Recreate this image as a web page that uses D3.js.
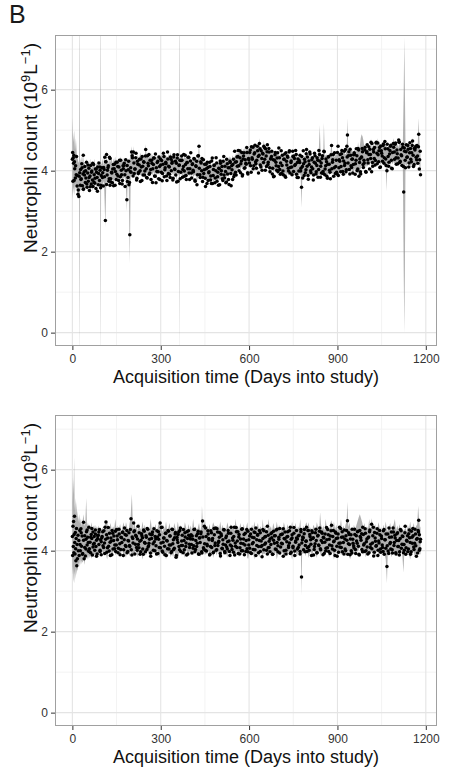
<!DOCTYPE html>
<html><head><meta charset="utf-8">
<script src="https://cdn.jsdelivr.net/npm/d3@7"></script>
<style>body{margin:0;background:#fff;} svg{display:block;font-family:"Liberation Sans",Arial,Helvetica,sans-serif;}</style>
</head><body><svg id="c" width="452" height="768"></svg>
<script>
const panelLabel = "B";
const xTitle = "Acquisition time (Days into study)";
const xTicks = [0, 300, 600, 900, 1200];
const xMinor = [150, 450, 750, 1050];
const yTicks = [0, 2, 4, 6];
const yMinor = [1, 3, 5, 7];

// top panel: [day, count]
const topPoints = [[0,4.28],[1,4.45],[2,3.74],[3,4.32],[4,4.18],[5,4.38],[6,3.76],[7,4.22],[8,4.05],[10,3.82],[11,4.12],[13,3.9],[14,4.35],[16,3.62],[17,3.88],[19,3.42],[20,3.52],[22,3.36],[23,3.86],[25,3.95],[27,3.64],
[28,4.03],[30,3.8],[32,4.17],[34,3.63],[36,3.92],[37,4.38],[38,3.55],[40,3.97],[42,4.1],[44,3.71],[46,3.82],[48,4.21],[50,3.59],[52,3.94],[54,3.74],[56,4.06],[58,3.51],[60,3.87],[62,4.13],[64,3.67],[66,3.99],[68,3.77],[70,3.61],[72,4.15],[74,3.9],[76,3.69],[78,4.04],[80,3.56],[82,3.96],[84,3.83],[86,4.09],[88,3.65],[90,4.19],[92,3.76],[94,4.01],[96,3.58],[98,3.88],[100,4.07],
[102,3.83],[105,3.62],[108,4.03],[110,4.33],[112,2.77],[114,4.22],[116,4.4],[118,3.89],[121,4.08],[124,3.74],[126,4.33],[128,3.64],[130,3.8],[133,3.96],[136,3.7],[139,4.15],[142,4.05],[145,3.64],[148,4.21],[151,3.91],[154,4.1],[157,3.76],[160,4.26],[163,3.85],[166,4.01],[169,3.67],[172,4.12],[175,4.13],[178,3.9],[181,4.27],[185,3.28],[187,3.73],[190,4.02],[192,3.65],[195,2.42],[198,4.07],[201,4.46],
[204,4.32],[207,4.46],[210,3.93],[213,4.04],[216,4.43],[219,3.81],[222,4.16],[225,3.96],[228,4.28],[231,3.73],[234,4.09],[237,4.35],[240,3.89],[243,4.21],[246,3.99],[249,4.52],[252,3.83],[255,4.37],[258,4.12],[261,3.91],[264,4.26],[267,3.78],[270,4.18],[273,4.05],[276,4.31],[279,3.87],[282,4.41],[284,3.7],[287,3.98],[290,4.23],[293,3.8],[296,4.1],[299,4.29],
[302,3.96],[305,3.75],[308,4.16],[311,4.35],[314,4.02],[317,4.21],[320,3.87],[323,4.46],[326,3.93],[329,4.09],[332,3.83],[335,4.28],[338,4.18],[341,3.77],[344,4.34],[347,4.04],[350,4.23],[354,3.72],[357,4.39],[360,3.98],[363,4.14],[366,3.8],[369,4.25],[372,4.26],[375,4.03],[378,4.4],[381,3.86],[384,4.15],[387,3.78],[390,4.2],[393,4.33],[396,3.94],[399,4.05],[402,4.44],[405,3.82],[408,4.17],[411,3.97],[414,4.29],[417,3.74],[420,4.1],[423,3.65],[426,4.36],[430,4.6],[433,3.9],[436,4.22],[439,4.0],
[442,3.73],[445,4.27],[448,4.02],[451,3.81],[454,4.16],[457,3.68],[460,4.08],[463,3.95],[466,4.21],[469,3.77],[472,3.68],[475,4.31],[478,3.88],[481,4.13],[484,3.7],[487,4.0],[490,4.19],[493,3.85],[496,3.64],[499,4.05],[502,4.24],[505,3.91],[508,4.1],[511,3.76],[514,4.35],[517,3.82],[520,3.98],[523,3.72],[526,4.17],[529,4.07],[532,3.66],[535,4.23],[538,3.93],[541,4.12],[544,3.78],[547,4.28],[550,3.9],
[553,4.21],[556,3.89],[559,4.34],[562,4.35],[565,4.12],[568,4.49],[571,3.95],[574,4.24],[577,3.87],[580,4.29],[583,4.44],[586,4.07],[589,4.18],[592,4.57],[595,3.95],[598,4.3],
[601,4.19],[604,4.51],[607,3.96],[610,4.32],[613,4.58],[616,4.12],[619,4.44],[622,4.22],[625,4.06],[628,4.6],[631,4.35],[635,4.67],[638,4.14],[641,4.49],[644,4.01],[647,4.41],[650,4.6],[653,4.28],[656,4.54],[659,4.1],[662,4.64],[665,4.21],[668,4.46],[671,3.97],[674,4.3],[677,4.48],
[680,4.06],[683,3.85],[686,4.26],[689,4.45],[692,4.12],[695,4.31],[698,3.97],[701,4.56],[704,4.03],[707,4.19],[710,3.93],[713,4.38],[716,3.9],[719,4.28],[722,3.87],[725,4.44],[728,4.14],[731,4.33],[734,3.99],[737,4.49],[740,4.08],[743,4.24],[746,3.9],[749,4.35],[752,4.36],[755,4.13],[758,4.5],
[761,3.91],[764,4.2],[767,3.83],[770,4.25],[773,4.38],[775,3.99],[778,3.59],[781,4.1],[784,4.49],[787,3.88],[790,4.22],[793,4.02],[795,4.52],[798,4.34],[801,3.79],[804,4.15],[807,4.41],[810,3.95],[813,4.27],[816,4.05],[819,3.89],[822,4.43],[825,4.18],[828,3.97],[831,4.32],[834,3.84],[837,4.5],[840,4.24],[843,4.11],[846,3.94],[849,4.37],[852,3.93],[855,4.47],[858,4.04],[861,4.29],[864,3.86],[867,4.16],[870,4.35],[873,4.01],[876,3.8],[880,4.62],[883,4.21],[886,4.4],[889,4.07],[893,3.93],[896,4.26],[899,3.92],
[902,4.6],[905,4.07],[908,4.23],[911,3.97],[914,4.42],[917,4.32],[920,3.91],[923,4.48],[926,4.18],[929,3.97],[932,4.6],[934,4.88],[937,4.37],[940,4.03],[943,4.53],[946,4.12],[949,4.28],[952,3.94],[955,4.39],[958,4.4],[961,4.17],[964,4.54],[967,4.0],[970,4.55],[973,3.86],[976,4.29],[979,3.92],[982,4.34],[985,4.47],[988,4.08],[991,4.19],[994,4.58],[997,3.96],
[1000,4.47],[1003,4.27],[1006,4.59],[1009,4.04],[1012,4.4],[1014,4.7],[1016,3.97],[1019,4.2],[1022,4.52],[1025,4.3],[1028,4.14],[1031,4.68],[1034,4.43],[1037,4.68],[1040,4.22],[1043,4.57],[1046,4.09],[1049,4.49],[1052,4.36],[1055,4.62],[1058,4.18],[1061,4.72],[1064,4.29],[1068,4.0],[1071,4.54],[1074,4.11],[1077,4.41],[1080,4.6],[1083,4.26],[1086,4.05],[1090,4.67],[1093,4.46],[1096,4.65],[1099,4.32],[1102,4.51],[1105,4.17],[1108,4.76],[1110,4.71],[1113,4.23],[1116,4.39],[1119,4.13],[1122,4.58],[1125,3.47],[1128,4.48],[1131,4.07],[1134,4.64],[1137,4.34],[1140,4.53],[1143,4.19],[1146,4.69],[1149,4.28],[1152,4.44],[1155,4.73],[1158,4.1],[1161,4.55],[1164,4.56],[1167,4.33],[1170,4.62],[1173,4.18],[1176,4.9],[1179,4.27],[1182,3.9]];

// top panel, second acquisition on days in between
const topPoints2 = [[29,3.78],[33,4.07],[37,3.54],[41,3.89],[45,4.0],[49,3.67],[53,4.14],[57,3.83],[61,3.6],[65,3.96],[69,4.18],[73,3.72],[77,3.81],[81,4.04],[85,3.49],[89,3.93],[93,4.09],[97,3.64],
[103,3.95],[106,4.08],[109,3.85],[113,4.22],[116,3.66],[119,4.01],[122,4.12],[125,3.8],[128,4.3],[131,3.72],[134,3.94],[137,4.04],[140,3.63],[143,4.16],[146,3.98],[149,3.78],[152,4.21],[155,3.87],[158,4.09],[161,3.68],[164,4.26],[167,3.9],[170,3.76],[173,4.05],[176,4.18],[179,3.61],[182,4.0],[186,4.13],[189,3.83],[191,4.23],[194,3.71],[197,3.97],[199,3.96],
[203,4.37],[206,3.87],[209,4.19],[212,4.04],[215,4.32],[218,3.77],[221,4.23],[224,3.93],[227,4.14],[230,4.0],[233,4.29],[236,3.76],[239,4.11],[242,4.22],[245,3.89],[248,4.36],[251,4.05],[254,3.82],[257,4.18],[260,4.4],[263,3.94],[266,4.03],[269,4.26],[272,3.71],[275,4.15],[278,4.31],[281,3.86],[285,4.07],[288,4.2],[291,3.97],[294,4.34],[297,3.78],
[300,4.14],[303,4.25],[306,3.93],[309,4.43],[312,3.85],[315,4.07],[318,4.17],[321,3.76],[324,4.29],[327,4.11],[330,3.91],[333,4.34],[336,4.0],[339,4.22],[342,3.81],[345,4.39],[348,4.03],[351,3.89],[353,4.18],[356,4.31],[359,3.74],[362,4.13],[365,4.26],[368,3.96],[371,4.36],[374,3.84],[377,4.1],[380,3.99],[383,4.38],[386,3.88],[389,4.2],[392,4.05],[395,4.33],[398,3.78],[401,4.24],[404,3.94],[407,4.15],[410,4.01],[413,4.3],[416,3.77],[419,4.12],[422,4.23],[425,3.9],[428,4.37],[431,4.06],[434,3.83],[437,4.19],
[440,4.3],[443,3.84],[446,3.93],[449,4.16],[452,3.61],[455,4.05],[458,4.21],[461,3.76],[464,3.97],[467,4.1],[470,3.87],[473,4.24],[476,3.68],[479,4.03],[482,4.14],[485,3.82],[488,4.32],[491,3.74],[494,3.96],[497,4.06],[500,3.65],[503,4.18],[506,4.0],[509,3.8],[512,4.23],[515,3.89],[518,4.11],[521,3.7],[524,4.28],[527,3.92],[530,3.78],[533,4.07],[536,4.2],[539,3.63],[542,4.02],[545,4.15],[548,3.85],
[551,4.48],[554,3.96],[557,4.22],[560,4.11],[563,4.5],[566,4.0],[569,4.32],[572,4.17],[575,4.45],[578,3.9],[581,4.36],[584,4.06],[587,4.27],[590,4.16],[593,4.45],[596,3.92],[599,4.27],
[602,4.45],[605,4.12],[608,4.59],[611,4.28],[614,4.05],[617,4.41],[620,4.63],[623,4.17],[626,4.26],[629,4.49],[632,3.94],[634,4.38],[637,4.54],[640,4.09],[643,4.3],[646,4.43],[649,4.2],[652,4.57],[655,4.01],[658,4.36],[661,4.47],[664,4.15],[667,4.55],[670,4.07],[673,4.29],[676,4.35],[679,3.92],
[682,4.27],[685,3.86],[688,4.39],[691,4.21],[694,4.01],[697,4.44],[700,4.1],[703,4.32],[706,3.91],[709,4.49],[712,4.13],[715,3.99],[718,4.28],[721,4.41],[724,3.84],[727,4.23],[730,4.36],[733,4.06],[736,4.46],[739,3.94],[742,4.2],[745,4.09],[748,4.48],[751,3.98],[754,4.3],[757,4.15],[760,4.4],
[763,3.83],[766,4.29],[769,3.99],[772,4.2],[776,4.06],[779,4.35],[782,3.82],[785,4.17],[788,4.28],[791,3.95],[794,4.42],[797,4.11],[800,3.88],[803,4.24],[806,4.46],[809,4.0],[812,4.09],[815,4.32],[818,3.77],[821,4.21],[824,4.37],[827,3.92],[830,4.13],[833,4.26],[836,4.03],[839,4.4],[842,3.84],[845,4.19],[848,4.3],[851,3.98],[854,4.48],[857,3.9],[860,4.12],[863,4.22],[866,3.81],[869,4.34],[872,4.16],[875,3.96],[878,4.39],[881,4.05],[884,4.27],[887,3.86],[890,4.44],[894,4.1],[897,3.96],
[900,4.45],[903,3.88],[906,4.27],[909,4.4],[912,4.1],[915,4.5],[918,3.98],[921,4.24],[924,4.13],[927,4.52],[930,4.02],[933,4.34],[936,4.19],[939,4.47],[942,3.92],[945,4.38],[948,4.08],[951,4.29],[954,4.15],[957,4.44],[960,3.91],[963,4.26],[966,4.37],[969,4.04],[972,4.51],[975,4.2],[978,3.97],[981,4.33],[984,4.55],[987,4.15],[990,4.26],[993,4.51],[996,3.98],[999,4.44],
[1001,4.64],[1004,4.19],[1007,4.4],[1010,4.53],[1013,4.3],[1017,4.67],[1020,4.11],[1023,4.46],[1026,4.57],[1029,4.25],[1032,4.7],[1035,4.17],[1038,4.39],[1041,4.49],[1044,4.08],[1047,4.61],[1050,4.43],[1053,4.23],[1056,4.66],[1059,4.32],[1062,4.54],[1065,4.13],[1069,4.65],[1072,4.35],[1075,4.21],[1078,4.5],[1081,4.63],[1084,4.06],[1087,4.45],[1091,4.58],[1094,4.28],[1097,4.68],[1100,4.16],[1103,4.42],[1106,4.31],[1109,4.7],[1112,4.2],[1115,4.52],[1118,4.37],[1121,4.65],[1124,4.1],[1127,4.56],[1130,4.26],[1133,4.47],[1136,4.33],[1139,4.62],[1142,4.09],[1145,4.44],[1148,4.55],[1151,4.22],[1154,4.62],[1157,4.38],[1160,4.15],[1163,4.51],[1166,4.6],[1169,4.27],[1172,4.36],[1175,4.59],[1178,4.04],[1181,4.48]];

// top panel interval: [day, lower, upper]
const topRibbon = [[0,3.3,5.3],[3,3.6,4.7],[6,3.4,5.0],[9,3.7,4.5],[12,3.5,4.8],[15,3.6,4.4],[18,3.3,4.3],[21,3.4,4.2],[22.5,3.45,4.2],[24,-1,9],[25.5,3.5,4.2],[27,3.5,4.2],[30,3.6,4.35],[33,3.5,4.1],[36,3.65,4.45],[39,3.45,4.15],[42,3.6,4.2],[45,3.55,4.05],[48,3.65,4.3],[51,3.5,4.1],[54,3.6,4.25],[57,3.55,4.0],[60,3.7,4.3],[63,3.55,4.15],[66,3.65,4.05],[69,3.5,4.2],[72,3.7,4.1],[75,3.6,4.3],[78,3.7,4.05],[81,3.55,4.2],[84,3.7,4.1],[87,3.6,4.25],[90,3.7,4.1],[93,3.65,4.2],[94.5,3.68,4.18],[96,-1,9],[97.5,3.7,4.16],[99,3.7,4.15],[102,3.6,4.3],[105,3.75,4.1],[108,3.6,4.4],[112,2.6,4.1],[115,3.7,4.5],[118,3.75,4.15],[121,3.65,4.3],[124,3.8,4.15],[127,3.55,4.3],[130,3.8,4.2],[133,3.7,4.35],[136,3.8,4.15],[139,3.72,4.3],[142,3.82,4.18],[145,3.7,4.35],[148,3.8,4.2],[151,3.75,4.28],[154,3.85,4.15],[157,3.72,4.3],[160,3.8,4.2],[163,3.76,4.35],[166,3.86,4.2],[169,3.74,4.3],[172,3.84,4.18],[175,3.78,4.32],[178,3.86,4.22],[181,3.76,4.3],[185,3.0,4.2],[188,3.82,4.3],[191,3.88,4.22],[195,1.7,4.3],[198,3.85,4.4],[201,3.9,4.6],[204,3.85,4.3],[207,3.9,4.6],[210,3.9,4.3],[213,3.82,4.25],[216,3.95,4.35],[219,3.86,4.25],[222,3.92,4.4],[225,3.85,4.3],[228,3.95,4.35],[231,3.88,4.45],[234,3.92,4.3],[237,3.86,4.38],[240,3.95,4.28],[243,3.88,4.4],[246,3.94,4.3],[249,3.9,4.65],[252,3.95,4.35],[255,3.88,4.42],[258,3.96,4.3],[261,3.9,4.38],[264,3.98,4.3],[267,3.9,4.45],[270,3.96,4.32],[273,3.88,4.4],[276,3.98,4.3],[279,3.9,4.36],[282,3.96,4.3],[285,3.75,4.35],[288,3.95,4.3],[291,3.9,4.4],[294,3.98,4.32],[297,3.9,4.4],[300,3.96,4.3],[303,3.9,4.42],[306,3.98,4.34],[309,3.9,4.5],[312,3.96,4.3],[315,3.9,4.4],[318,3.98,4.32],[321,3.86,4.38],[324,3.96,4.3],[327,3.9,4.42],[330,3.98,4.35],[333,3.92,4.45],[336,3.98,4.3],[339,3.9,4.38],[342,3.96,4.3],[345,3.86,4.35],[348,3.95,4.28],[351,3.88,4.36],[354,3.75,4.3],[357,3.94,4.38],[360,3.9,4.3],[361.5,3.9,4.32],[363,-1,9],[364.5,3.9,4.3],[366,3.9,4.3],[369,3.95,4.36],[372,3.88,4.3],[375,3.84,4.34],[378,3.94,4.28],[381,3.88,4.36],[384,3.92,4.3],[387,3.86,4.38],[390,3.94,4.3],[393,3.88,4.34],[396,3.92,4.28],[399,3.86,4.36],[402,3.92,4.3],[405,3.86,4.26],[408,3.92,4.34],[411,3.84,4.28],[414,3.9,4.32],[417,3.86,4.26],[420,3.9,4.34],[423,3.7,4.25],[426,3.86,4.3],[430,3.85,4.65],[433,3.82,4.25],[436,3.88,4.3],[439,3.8,4.22],[442,3.86,4.28],[445,3.78,4.2],[448,3.8,4.16],[451,3.76,4.22],[454,3.82,4.14],[457,3.74,4.2],[460,3.8,4.16],[463,3.74,4.22],[466,3.8,4.12],[469,3.72,4.18],[472,3.7,4.12],[475,3.78,4.2],[478,3.74,4.1],[481,3.72,4.18],[484,3.8,4.2],[487,3.74,4.12],[490,3.8,4.2],[493,3.72,4.14],[496,3.8,4.22],[499,3.76,4.16],[502,3.82,4.24],[505,3.76,4.16],[508,3.84,4.26],[511,3.8,4.18],[514,3.86,4.28],[517,3.8,4.2],[520,3.88,4.3],[523,3.84,4.24],[526,3.9,4.32],[529,3.84,4.22],[532,3.92,4.36],[535,3.88,4.28],[538,3.94,4.34],[541,3.88,4.26],[544,3.96,4.38],[547,3.92,4.3],[550,3.86,4.34],[553,4.0,4.36],[556,4.04,4.44],[559,3.98,4.36],[562,4.06,4.46],[565,4.02,4.42],[568,4.08,4.5],[571,4.02,4.44],[574,4.1,4.56],[577,4.04,4.46],[580,4.12,4.54],[583,4.06,4.48],[586,4.14,4.58],[589,4.06,4.46],[592,4.14,4.56],[595,4.1,4.6],[598,4.08,4.5],[601,4.16,4.58],[604,4.1,4.5],[607,4.16,4.62],[610,4.08,4.52],[613,4.16,4.6],[616,4.12,4.66],[619,4.16,4.56],[622,4.12,4.6],[625,4.08,4.54],[628,4.16,4.64],[631,4.12,4.56],[635,4.15,4.8],[638,4.1,4.54],[641,4.16,4.6],[644,4.12,4.56],[647,4.06,4.52],[650,4.14,4.75],[653,4.12,4.56],[656,4.06,4.5],[659,4.12,4.6],[662,4.06,4.5],[665,4.1,4.56],[668,4.0,4.46],[671,3.9,4.48],[674,4.04,4.5],[677,3.98,4.44],[680,4.04,4.5],[683,3.96,4.42],[686,4.02,4.46],[689,3.94,4.4],[692,4.0,4.44],[695,3.96,4.46],[698,3.92,4.38],[701,3.98,4.42],[704,3.9,4.36],[707,3.96,4.4],[710,3.92,4.44],[713,3.88,4.36],[716,3.84,4.34],[719,3.94,4.4],[722,3.9,4.34],[725,3.96,4.42],[728,3.88,4.34],[731,3.94,4.38],[734,3.88,4.32],[737,3.94,4.4],[740,3.86,4.32],[743,3.92,4.38],[746,3.9,4.42],[749,3.88,4.34],[752,3.94,4.38],[755,3.9,4.34],[758,3.86,4.32],[761,3.94,4.4],[764,3.9,4.34],[767,3.86,4.32],[770,3.94,4.38],[773,3.88,4.32],[775,3.92,4.42],[778,3.09,4.3],[781,3.9,4.36],[784,3.86,4.3],[787,3.82,4.34],[790,3.92,4.38],[793,3.88,4.34],[795,3.9,4.6],[798,3.86,4.32],[801,3.92,4.38],[804,3.88,4.32],[807,3.94,4.4],[810,3.86,4.3],[813,3.92,4.36],[816,3.88,4.32],[819,3.94,4.4],[822,3.86,4.32],[825,3.94,4.42],[828,3.9,4.36],[831,3.84,4.3],[834,3.92,4.38],[837,3.9,4.56],[840,3.9,5.13],[843,3.92,4.4],[846,3.84,4.32],[849,3.92,4.38],[852,3.94,4.44],[854,3.9,5.18],[857,3.9,4.36],[860,3.92,4.38],[863,3.88,4.4],[866,3.9,4.34],[869,3.94,4.38],[872,3.88,4.34],[876,3.94,4.42],[880,3.95,4.7],[883,3.92,4.38],[886,3.96,4.4],[889,3.88,4.34],[893,3.82,4.38],[896,3.96,4.42],[899,3.94,4.38],[902,3.98,4.46],[905,3.92,4.38],[908,3.98,4.44],[911,4.0,4.5],[914,3.94,4.4],[917,4.0,4.46],[920,3.96,4.42],[923,4.02,4.54],[926,3.94,4.4],[929,3.88,4.42],[932,4.0,4.7],[934,4.0,5.3],[937,3.98,4.46],[940,4.02,4.5],[943,3.96,4.42],[946,4.0,4.48],[949,4.04,4.56],[952,3.96,4.44],[955,4.0,4.48],[958,4.04,4.52],[961,3.98,4.44],[964,4.02,4.5],[967,3.96,4.46],[970,4.0,4.7],[973,3.8,4.5],[976,4.0,4.6],[979,4.05,4.8],[982,4.1,4.9],[985,4.12,4.85],[988,4.15,4.75],[991,4.1,4.6],[994,4.12,4.56],[997,4.08,4.5],[1000,4.14,4.58],[1003,4.1,4.52],[1006,4.18,4.64],[1009,4.12,4.56],[1012,4.18,4.62],[1014,4.2,4.8],[1016,3.95,4.55],[1019,4.16,4.6],[1022,4.2,4.66],[1025,4.14,4.58],[1028,4.2,4.64],[1031,4.24,4.7],[1034,4.16,4.6],[1037,4.22,4.8],[1040,4.18,4.62],[1043,4.22,4.68],[1046,4.14,4.58],[1049,4.2,4.64],[1052,4.16,4.6],[1055,4.22,4.7],[1058,4.12,4.58],[1061,4.18,4.64],[1064,4.16,4.66],[1066,3.5,4.6],[1068,3.9,4.6],[1071,4.1,4.56],[1074,4.16,4.62],[1077,4.2,4.66],[1080,4.14,4.6],[1083,4.22,4.7],[1086,4.16,4.62],[1090,4.22,4.8],[1093,4.18,4.64],[1096,4.12,4.58],[1099,4.2,4.66],[1102,4.16,4.6],[1105,4.2,4.66],[1108,4.1,4.56],[1110,4.2,4.82],[1113,4.16,4.62],[1116,4.2,4.68],[1119,4.12,4.58],[1122,4.1,4.64],[1125,1.5,6.0],[1127,0.0,7.3],[1129,1.5,6.0],[1131,4.2,4.66],[1134,4.1,4.56],[1137,4.18,4.62],[1140,4.22,4.7],[1143,4.12,4.58],[1146,4.18,4.64],[1149,4.06,4.52],[1152,4.16,4.6],[1155,4.22,4.82],[1158,4.12,4.56],[1161,4.18,4.64],[1164,4.08,4.52],[1167,4.16,4.62],[1170,4.12,4.58],[1173,4.2,4.7],[1175,4.3,5.3],[1177,4.2,4.95],[1180,4.0,4.5],[1182,3.8,4.4]];

// bottom panel: [day, count]
const bottomPoints = [[0,4.35],[1,3.88],[2,4.6],[3,4.1],[4,4.72],[5,3.95],[6,4.4],[7,4.85],[8,4.2],[9,3.92],[10,4.45],[11,4.05],[12,3.75],[13,4.3],[14,4.55],[15,3.63],[16,4.15],[17,3.8],[19,4.38],[20,4.0],[22,4.25],[23,3.88],[25,4.5],
[27,4.0],[29,4.54],[31,4.11],[33,4.36],[35,3.93],[38,4.7],[40,3.8],[42,4.08],[44,3.87],[46,4.28],[48,4.47],[50,4.14],[52,4.33],[54,3.99],[56,4.58],[58,4.05],[60,4.21],[62,3.95],[64,4.4],[66,4.3],[68,3.89],[70,4.46],[72,4.16],[74,4.35],[76,4.01],[78,4.51],[80,4.1],[82,4.26],[84,3.92],[86,4.37],[88,4.38],[90,4.15],[92,4.52],[94,3.98],[96,4.27],[98,3.9],[100,4.32],
[103,4.47],[106,4.08],[109,4.19],[111,4.58],[114,4.71],[117,3.96],[120,4.31],[123,4.11],[126,4.43],[129,3.88],[132,4.24],[135,4.5],[138,4.04],[141,4.36],[144,4.14],[147,3.98],[150,4.52],[153,4.27],[156,4.06],[159,4.41],[162,3.9],[165,4.33],[168,4.2],[171,4.46],[174,4.02],[177,4.56],[180,4.13],[183,4.38],[186,3.95],[189,4.25],[192,4.44],[195,4.1],[199,4.79],[202,3.89],[205,4.3],[208,4.68],[211,4.49],[214,4.16],[217,4.35],[220,4.01],[223,4.6],[226,4.07],[229,4.23],[232,3.97],[235,4.42],[238,4.32],[241,3.91],[244,4.48],[247,4.18],[250,4.37],[253,4.03],[256,4.53],[259,4.12],[262,4.28],[265,3.94],[268,4.39],[271,4.4],[274,4.17],[277,4.54],[280,4.0],[283,4.29],[286,3.92],[289,4.34],[292,4.47],[295,4.08],[298,4.68],
[301,4.19],[304,4.58],[307,3.96],[310,4.31],[313,4.11],[316,4.43],[319,3.88],[322,4.24],[325,4.5],[328,4.04],[331,4.36],[334,4.14],[337,3.98],[340,4.52],[343,4.27],[346,4.06],[349,4.41],[352,3.84],[355,4.33],[358,4.2],[361,4.46],[364,4.02],[367,4.56],[370,4.13],[373,4.38],[376,3.95],[379,4.25],[382,4.44],[385,4.1],[388,3.89],[391,4.3],[394,4.49],[397,4.16],[400,4.35],
[403,4.39],[406,3.94],[409,4.28],[412,4.12],[415,4.53],[418,4.03],[421,4.37],[424,4.18],[427,4.48],[430,3.91],[433,4.32],[436,4.42],[439,3.97],[442,4.73],[445,4.07],[448,4.6],[451,4.01],[454,4.35],[457,4.16],[460,4.49],[463,4.3],[466,3.89],[469,4.1],[472,4.44],[475,4.25],[478,3.95],[481,4.55],[484,4.13],[487,4.56],[490,4.02],[493,4.46],[496,4.2],[499,4.33],[502,3.93],[505,4.41],[508,4.06],[511,4.27],[514,4.52],[517,3.98],[520,4.14],[523,4.36],[526,4.04],[529,4.5],[532,4.24],[535,3.88],[538,4.43],[541,4.11],[544,4.31],[547,3.96],[550,4.58],[553,4.19],[556,4.57],[559,4.08],[562,4.47],[565,4.34],[568,3.92],[571,4.29],[574,4.0],[577,4.54],[580,4.17],[583,4.4],
[586,4.14],[589,3.98],[592,4.52],[596,3.97],[599,4.27],[602,4.06],[605,4.41],[608,3.93],[611,4.33],[614,4.2],[617,4.46],[620,4.02],[623,4.56],[626,4.13],[629,4.38],[632,3.95],[635,4.25],[638,4.44],[641,4.1],[644,3.85],[647,4.3],[650,4.49],[653,4.16],[656,4.35],[659,4.01],[662,4.6],[665,4.07],[668,4.23],[671,3.97],[674,4.42],[677,4.32],[680,3.91],[683,4.48],[686,4.18],[689,4.37],[692,4.03],[695,4.53],[698,4.12],[701,4.28],[704,3.94],[707,4.39],[710,4.4],[713,4.17],[716,4.54],[719,4.0],[722,4.29],[725,3.92],[728,4.34],[731,4.47],[734,4.08],[737,4.19],[740,4.58],[743,3.96],[746,4.31],[749,4.11],[752,4.43],[755,3.88],[758,4.24],[761,4.5],[764,4.04],[767,4.36],[770,4.14],[773,3.98],[776,4.52],[778,3.35],[781,4.27],
[784,4.32],[787,4.42],[790,3.97],[793,4.23],[795,4.58],[798,4.07],[801,4.5],[804,4.01],[807,4.35],[810,4.16],[813,4.49],[816,4.3],[819,3.89],[822,4.1],[825,4.44],[828,4.25],[831,3.95],[834,4.38],[837,4.13],[840,4.56],[843,4.02],[846,4.46],[849,4.2],[852,4.33],[855,3.93],[858,4.41],[861,4.06],[864,4.27],[867,4.52],[870,3.98],[873,4.14],[876,4.36],[880,4.63],[883,4.04],[886,4.5],[889,4.24],[892,3.88],[895,4.43],[898,4.11],[901,4.31],[904,3.96],[907,4.58],[910,4.19],[913,4.08],[916,4.47],[919,4.34],[922,3.92],[925,4.29],[928,4.0],[931,4.5],[934,4.74],[937,4.17],[940,4.4],[943,3.9],[946,4.39],[949,3.94],[952,4.28],[955,4.12],[958,4.53],[961,4.03],[964,4.37],[967,4.18],[970,4.48],[973,3.91],[976,4.5],[979,4.32],[982,4.42],[985,3.97],
[988,4.4],[991,4.17],[994,4.54],[997,4.0],[1000,4.29],[1003,3.92],[1006,4.34],[1009,4.47],[1012,4.08],[1016,4.65],[1019,4.19],[1022,4.58],[1025,3.96],[1028,4.31],[1031,4.11],[1034,4.43],[1037,3.88],[1040,4.24],[1043,4.5],[1046,4.04],[1049,4.36],[1052,4.14],[1055,3.98],[1058,4.52],[1061,4.27],[1064,4.06],[1068,3.61],[1071,4.41],[1074,3.93],[1077,4.33],[1080,4.2],[1083,4.46],[1086,4.02],[1089,4.56],[1092,4.13],[1095,4.38],[1098,3.95],[1101,4.25],[1104,4.44],[1107,4.1],[1110,3.89],[1113,4.3],[1116,4.49],[1119,4.16],[1122,4.35],[1124,3.95],[1127,4.01],[1130,4.6],[1133,4.07],[1136,4.23],[1139,3.97],[1142,4.42],[1145,4.32],[1148,3.91],[1151,4.48],[1154,4.18],[1157,4.37],[1160,4.03],[1163,4.53],[1166,4.12],[1169,4.28],[1172,3.94],[1174,4.5],[1176,4.75],[1178,4.39],[1180,4.05],[1182,4.28]];

// bottom panel, second acquisition on days in between
const bottomPoints2 = [[26,4.15],[30,4.44],[34,3.91],[38,4.26],[42,4.37],[46,4.04],[50,4.51],[54,4.2],[58,3.97],[62,4.33],[66,4.55],[70,4.09],[74,4.18],[78,4.41],[82,3.86],[86,4.3],[90,4.46],[94,4.01],[98,4.22],
[101,4.35],[104,4.12],[107,4.49],[110,3.93],[113,4.28],[116,4.39],[119,4.07],[122,4.57],[125,3.99],[128,4.21],[131,4.31],[134,3.9],[137,4.43],[140,4.25],[143,4.05],[146,4.48],[149,4.14],[152,4.36],[155,3.95],[158,4.53],[161,4.17],[164,4.03],[167,4.32],[170,4.45],[173,3.88],[176,4.27],[179,4.4],[182,4.1],[185,4.5],[188,3.98],[191,4.24],[194,4.13],[197,4.52],[200,4.02],[203,4.34],[206,4.19],[209,4.47],[212,3.92],[215,4.38],[218,4.08],[221,4.29],
[224,4.15],[227,4.44],[230,3.91],[233,4.26],[236,4.37],[239,4.04],[242,4.51],[245,4.2],[248,3.97],[251,4.33],[254,4.55],[257,4.09],[260,4.18],[263,4.41],[266,3.86],[269,4.3],[272,4.46],[275,4.01],[278,4.22],[281,4.35],[284,4.12],[287,4.49],[290,3.93],[293,4.28],[296,4.39],[299,4.07],[302,4.57],[305,3.99],[308,4.21],[311,4.31],[314,3.9],[317,4.43],[320,4.25],[323,4.05],[326,4.48],[329,4.14],[332,4.36],[335,3.95],[338,4.53],[341,4.17],[344,4.03],[347,4.32],[350,4.45],[353,3.88],[356,4.27],[359,4.4],[362,4.1],[365,4.5],[368,3.98],[371,4.24],[374,4.13],[377,4.52],[380,4.02],[383,4.34],[386,4.19],[389,4.47],[392,3.92],[395,4.38],[398,4.08],[401,4.29],
[404,4.15],[407,4.36],[410,4.06],[413,4.52],[416,3.97],[419,4.25],[422,4.1],[425,4.42],[428,3.92],[431,4.31],[434,4.2],[437,4.46],[440,3.94],[443,4.34],[446,4.04],[449,4.17],[452,4.56],[455,3.99],[458,4.12],[461,4.41],[464,4.27],[467,3.91],[470,4.49],[473,4.08],[476,4.3],[479,3.96],[482,4.39],[485,4.19],[488,4.01],[491,4.54],[494,4.13],[497,4.23],[500,4.45],[503,3.87],[506,4.37],[509,4.05],[512,4.16],[515,4.51],[518,3.95],[521,4.32],[524,4.09],[527,4.22],[530,4.43],[533,3.98],[536,4.14],[539,4.58],[542,4.03],[545,4.26],[548,4.35],[551,3.89],[554,4.11],[557,4.47],[560,4.24],[563,3.93],[566,4.4],[569,4.07],[572,4.18],[575,4.53],[578,4.0],[581,4.29],
[584,3.9],[587,4.43],[590,4.25],[593,4.05],[596,4.48],[599,4.14],[602,4.36],[605,3.95],[608,4.53],[611,4.17],[614,4.03],[617,4.32],[620,4.45],[623,3.88],[626,4.27],[629,4.4],[632,4.1],[635,4.5],[638,3.98],[641,4.24],[644,4.13],[647,4.52],[650,4.02],[653,4.34],[656,4.19],[659,4.47],[662,3.92],[665,4.38],[668,4.08],[671,4.29],[674,4.15],[677,4.44],[680,3.91],[683,4.26],[686,4.37],[689,4.04],[692,4.51],[695,4.2],[698,3.97],[701,4.33],[704,4.55],[707,4.09],[710,4.18],[713,4.41],[716,3.86],[719,4.3],[722,4.46],[725,4.01],[728,4.22],[731,4.35],[734,4.12],[737,4.49],[740,3.93],[743,4.28],[746,4.39],[749,4.07],[752,4.57],[755,3.99],[758,4.21],[761,4.31],
[764,4.29],[767,4.08],[770,4.38],[773,3.92],[776,4.47],[779,4.19],[782,4.34],[785,4.02],[788,4.52],[791,4.13],[794,4.24],[797,3.98],[800,4.5],[803,4.1],[806,4.4],[809,4.27],[812,3.88],[815,4.45],[818,4.32],[821,4.03],[824,4.17],[827,4.53],[830,3.95],[833,4.36],[836,4.14],[839,4.48],[842,4.05],[845,4.25],[848,4.43],[851,3.9],[854,4.31],[857,4.21],[860,3.99],[863,4.57],[866,4.07],[869,4.39],[872,4.28],[875,3.93],[878,4.49],[881,4.12],[884,4.35],[887,4.22],[890,4.01],[893,4.46],[896,4.3],[899,3.86],[902,4.41],[905,4.18],[908,4.09],[911,4.55],[914,4.33],[917,3.97],[920,4.2],[923,4.51],[926,4.04],[929,4.37],[932,4.26],[935,3.91],[938,4.44],[941,4.15],
[944,4.29],[947,4.0],[950,4.53],[953,4.18],[956,4.07],[959,4.4],[962,3.93],[965,4.24],[968,4.47],[971,4.11],[974,3.89],[977,4.35],[980,4.26],[983,4.03],[986,4.58],[989,4.14],[992,3.98],[995,4.43],[998,4.22],[1001,4.09],[1004,4.32],[1007,3.95],[1010,4.51],[1013,4.16],[1017,4.05],[1020,4.37],[1023,3.87],[1026,4.45],[1029,4.23],[1032,4.13],[1035,4.54],[1038,4.01],[1041,4.19],[1044,4.39],[1047,3.96],[1050,4.3],[1053,4.08],[1056,4.49],[1059,3.91],[1062,4.27],[1065,4.41],[1069,4.12],[1072,3.99],[1075,4.56],[1078,4.17],[1081,4.04],[1084,4.34],[1087,3.94],[1090,4.46],[1093,4.2],[1096,4.31],[1099,3.92],[1102,4.42],[1105,4.1],[1108,4.25],[1111,3.97],[1114,4.52],[1117,4.06],[1120,4.36],[1123,4.15],
[1126,4.15],[1129,4.44],[1132,3.91],[1135,4.26],[1138,4.37],[1141,4.04],[1144,4.51],[1147,4.2],[1150,3.97],[1153,4.33],[1156,4.55],[1159,4.09],[1162,4.18],[1165,4.41],[1168,3.86],[1171,4.3],[1175,4.46],[1178,4.01],[1181,4.22]];

// bottom panel interval: [day, lower, upper]
const bottomRibbon = [[0,3.4,5.2],[2,3.6,5.8],[4,3.3,5.4],[6,3.2,6.3],[8,3.5,5.0],[10,3.3,5.3],[12,3.6,4.9],[14,3.4,5.2],[16,3.55,4.8],[18,3.5,5.0],[20,3.7,4.7],[23,3.6,4.9],[26,3.8,4.65],[29,3.65,4.8],[32,3.75,4.6],[35,3.7,4.75],[38,3.8,4.9],[41,3.65,4.6],[44,3.85,4.7],[47,3.8,5.3],[50,3.85,4.6],[53,3.78,4.7],[56,3.9,4.55],[59,3.82,4.65],[62,3.88,4.55],[65,3.8,4.7],[68,3.9,4.55],[71,3.84,4.62],[74,3.92,4.55],[77,3.86,4.64],[80,3.94,4.52],[83,3.86,4.6],[86,3.94,4.54],[89,3.88,4.62],[92,3.95,4.52],[95,3.88,4.58],[98,3.94,4.5],
[102,3.98,4.58],[106,3.88,4.46],[110,4.01,4.64],[114,3.92,4.75],[118,3.78,4.72],[122,3.97,4.5],[126,3.9,4.56],[130,3.99,4.68],[134,3.84,4.48],[138,3.95,4.6],[142,4.02,4.54],[146,3.89,4.78],[150,3.93,4.49],[154,3.92,4.62],[158,4.0,4.52],[162,3.86,4.66],[166,3.96,4.47],[170,4.02,4.58],[174,3.82,4.7],[178,3.94,4.51],
[182,3.82,4.7],[186,4.02,4.58],[190,3.96,4.47],[194,3.86,4.66],[198,4.0,4.85],[202,3.92,5.4],[206,3.93,4.49],[210,3.89,4.78],[214,4.02,4.54],[218,3.95,4.6],[222,3.84,4.48],[226,3.99,4.68],[230,3.9,4.56],[234,3.97,4.5],[238,3.78,4.72],[242,3.92,4.52],[246,4.01,4.64],[250,3.88,4.46],[254,3.98,4.58],[258,3.94,4.51],
[262,4.02,4.54],[266,3.89,4.78],[270,3.93,4.49],[274,3.92,4.62],[278,4.0,4.52],[282,3.86,4.66],[286,3.96,4.47],[290,4.02,4.58],[294,3.82,4.7],[298,3.94,4.75],[302,3.98,4.58],[306,3.88,4.46],[310,4.01,4.64],[314,3.92,4.52],[318,3.78,4.72],[322,3.97,4.5],[326,3.9,4.56],[330,3.99,4.68],[334,3.84,4.48],[338,3.95,4.6],
[342,3.84,4.48],[346,3.99,4.68],[350,3.9,4.56],[352,3.78,4.5],[354,3.97,4.5],[358,3.78,4.72],[362,3.92,4.52],[366,4.01,4.64],[370,3.88,4.46],[374,3.98,4.58],[378,3.94,4.51],[382,3.82,4.7],[386,4.02,4.58],[390,3.96,4.47],[394,3.86,4.66],[398,4.0,4.52],[402,3.92,4.62],[406,3.93,4.49],[410,3.89,4.78],[414,4.02,4.54],[418,3.95,4.6],
[422,3.97,4.5],[426,3.9,4.56],[430,3.99,4.68],[434,3.84,4.48],[438,3.95,4.6],[440,3.96,5.1],[442,3.98,4.8],[446,4.02,4.54],[450,3.89,4.78],[454,3.93,4.49],[458,3.92,4.62],[462,4.0,4.52],[466,3.86,4.66],[470,3.96,4.47],[474,4.02,4.58],[478,3.82,4.7],[482,3.94,4.62],[486,3.98,4.58],[490,3.88,4.46],[494,4.01,4.64],[498,3.92,4.52],
[502,3.78,4.72],[506,3.92,4.52],[510,4.01,4.64],[514,3.88,4.46],[518,3.98,4.58],[522,3.94,4.51],[526,3.82,4.7],[530,4.02,4.58],[534,3.96,4.47],[538,3.86,4.66],[542,4.0,4.52],[546,3.92,4.62],[550,3.93,4.49],[554,3.89,4.78],[558,4.02,4.54],[562,3.95,4.6],[566,3.84,4.48],[570,3.99,4.68],[574,3.9,4.56],[578,3.97,4.5],
[582,3.86,4.66],[586,3.96,4.47],[590,4.02,4.58],[594,3.82,4.7],[597,3.8,4.51],[602,3.98,4.58],[606,3.88,4.46],[610,4.01,4.64],[614,3.92,4.52],[618,3.78,4.72],[622,3.97,4.5],[626,3.9,4.56],[630,3.99,4.68],[634,3.84,4.48],[638,3.95,4.6],[642,4.02,4.54],[644,3.8,4.55],[646,3.89,4.78],[650,3.93,4.49],[654,3.92,4.62],[658,4.0,4.52],
[662,3.93,4.49],[666,3.89,4.78],[670,4.02,4.54],[674,3.95,4.6],[678,3.84,4.48],[682,3.99,4.68],[686,3.9,4.56],[690,3.97,4.5],[694,3.78,4.72],[698,3.92,4.52],[702,4.01,4.64],[706,3.88,4.46],[710,3.98,4.58],[714,3.94,4.51],[718,3.82,4.7],[722,4.02,4.58],[726,3.96,4.47],[730,3.86,4.66],[734,4.0,4.52],[738,3.92,4.62],
[742,3.92,4.52],[746,3.78,4.72],[750,3.97,4.5],[754,3.9,4.56],[758,3.99,4.68],[762,3.84,4.48],[766,3.95,4.6],[770,4.02,4.54],[774,3.89,4.78],[776,3.9,4.5],[778,2.9,4.5],[780,3.93,4.49],[784,3.92,4.62],[788,4.0,4.52],[792,3.86,4.66],[795,3.96,4.7],[798,4.02,4.58],[802,3.82,4.7],[806,3.94,4.51],[810,3.98,4.58],[814,3.88,4.46],[818,4.01,4.64],
[822,3.98,4.58],[826,3.94,4.51],[830,3.82,4.7],[834,4.02,4.58],[838,3.96,4.47],[841,3.96,4.95],[844,3.86,4.66],[848,4.0,4.52],[852,3.92,4.62],[856,3.93,4.49],[860,3.89,4.78],[864,4.02,4.54],[868,3.95,4.6],[872,3.84,4.48],[876,3.99,4.68],[880,3.9,4.75],[884,3.97,4.5],[888,3.78,4.72],[892,3.92,4.52],[896,4.01,4.64],
[900,3.84,4.48],[904,3.95,4.6],[908,4.02,4.54],[912,3.89,4.78],[916,3.93,4.49],[920,3.92,4.62],[924,4.0,4.52],[928,3.86,4.66],[931,3.96,4.7],[934,3.98,5.2],[937,4.02,4.58],[941,3.82,4.7],[944,3.8,4.51],[948,3.98,4.58],[952,3.88,4.46],[956,4.01,4.64],[960,3.92,4.52],[964,3.96,4.62],[968,3.98,4.72],[972,4.02,4.82],[976,4.08,4.9],[980,4.06,4.8],[984,3.96,4.7],[988,3.9,4.56],[992,3.99,4.68],[996,3.84,4.48],
[1000,3.95,4.6],[1004,4.02,4.54],[1008,3.89,4.78],[1012,3.93,4.49],[1016,3.98,4.8],[1020,3.92,4.62],[1024,4.0,4.52],[1028,3.86,4.66],[1032,3.96,4.47],[1036,4.02,4.58],[1040,3.82,4.7],[1044,3.94,4.51],[1048,3.98,4.58],[1052,3.88,4.46],[1056,4.01,4.64],[1060,3.92,4.52],[1064,3.78,4.72],[1068,3.2,4.5],[1071,3.97,4.5],[1075,3.9,4.56],[1079,3.99,4.68],[1083,3.84,4.48],[1087,3.95,4.6],[1091,4.02,4.65],[1095,3.89,4.78],[1099,3.93,4.49],[1103,3.92,4.62],[1107,4.0,4.52],[1111,3.86,4.66],[1115,3.96,4.47],[1119,4.02,4.58],[1122,3.7,4.5],[1124,3.46,4.5],[1127,3.94,4.51],[1131,3.98,4.58],[1135,3.88,4.46],[1139,4.01,4.64],[1143,3.92,4.52],[1147,3.78,4.72],[1151,3.97,4.5],[1155,3.9,4.56],[1159,3.99,4.68],[1163,3.84,4.48],[1167,3.95,4.6],[1171,4.02,4.65],[1174,3.98,5.1],[1177,3.96,4.8],[1180,3.89,4.56],[1182,3.93,4.6]];

const svg = d3.select("#c");
svg.append("rect").attr("width", 452).attr("height", 768).attr("fill", "#fff");
svg.append("text").attr("x", 9).attr("y", 23).attr("font-size", 25).attr("fill", "#1a1a1a").text(panelLabel);

function drawPanel(top, pts, rib, id) {
  const L = 55, R = 437, T = top, B = top + 311;
  const x = d3.scaleLinear().domain([-59, 1238]).range([L, R]);
  const y = d3.scaleLinear().domain([-0.33, 7.35]).range([B, T]);
  const g = svg.append("g");
  g.append("clipPath").attr("id", id).append("rect")
    .attr("x", L).attr("y", T).attr("width", R - L).attr("height", B - T);

  const grid = g.append("g");
  grid.selectAll(".xm").data(xMinor).join("line")
    .attr("x1", d => x(d)).attr("x2", d => x(d)).attr("y1", T).attr("y2", B)
    .attr("stroke", "#f3f3f3").attr("stroke-width", 1);
  grid.selectAll(".ym").data(yMinor).join("line")
    .attr("y1", d => y(d)).attr("y2", d => y(d)).attr("x1", L).attr("x2", R)
    .attr("stroke", "#f3f3f3").attr("stroke-width", 1);
  grid.selectAll(".xM").data(xTicks).join("line")
    .attr("x1", d => x(d)).attr("x2", d => x(d)).attr("y1", T).attr("y2", B)
    .attr("stroke", "#e4e4e4").attr("stroke-width", 1.1);
  grid.selectAll(".yM").data(yTicks).join("line")
    .attr("y1", d => y(d)).attr("y2", d => y(d)).attr("x1", L).attr("x2", R)
    .attr("stroke", "#e4e4e4").attr("stroke-width", 1.1);

  const area = d3.area().x(d => x(d[0])).y0(d => y(d[1])).y1(d => y(d[2]));
  g.append("path").datum(rib).attr("d", area)
    .attr("clip-path", `url(#${id})`)
    .attr("fill", "#888").attr("fill-opacity", 0.66);

  g.append("g").attr("clip-path", `url(#${id})`)
    .selectAll("circle").data(pts).join("circle")
    .attr("cx", d => x(d[0])).attr("cy", d => y(d[1])).attr("r", 1.75)
    .attr("fill", "#000");

  g.append("rect").attr("x", L + 0.5).attr("y", T + 0.5).attr("width", R - L - 1).attr("height", B - T - 1)
    .attr("fill", "none").attr("stroke", "#a0a0a0").attr("stroke-width", 1);

  const xa = g.append("g").attr("transform", `translate(0,${B})`)
    .call(d3.axisBottom(x).tickValues(xTicks).tickFormat(d3.format("d")).tickSize(4).tickPadding(4.5));
  const ya = g.append("g").attr("transform", `translate(${L},0)`)
    .call(d3.axisLeft(y).tickValues(yTicks).tickFormat(d3.format("d")).tickSize(4).tickPadding(3));
  [xa, ya].forEach(a => {
    a.select(".domain").remove();
    a.selectAll(".tick line").attr("stroke", "#333");
    a.selectAll(".tick text").attr("font-size", 12).attr("fill", "#333")
      .attr("font-family", '"Liberation Sans",Arial,sans-serif');
  });

  g.append("text").attr("x", (L + R) / 2).attr("y", B + 36.5).attr("text-anchor", "middle")
    .attr("font-size", 18).attr("fill", "#111").text(xTitle);

  const yt = g.append("text").attr("transform", `translate(36.5,${T + 8}) rotate(-90)`)
    .attr("text-anchor", "end").attr("font-size", 19).attr("fill", "#111");
  yt.append("tspan").text("Neutrophil count (10");
  yt.append("tspan").attr("dy", -7).attr("font-size", 13).text("9");
  yt.append("tspan").attr("dy", 7).text("L");
  yt.append("tspan").attr("dy", -7).attr("font-size", 13).text("\u22121");
  yt.append("tspan").attr("dy", 7).text(")");
}

drawPanel(35, topPoints.concat(topPoints2), topRibbon, "clipTop");
drawPanel(415, bottomPoints.concat(bottomPoints2), bottomRibbon, "clipBottom");
</script></body></html>
